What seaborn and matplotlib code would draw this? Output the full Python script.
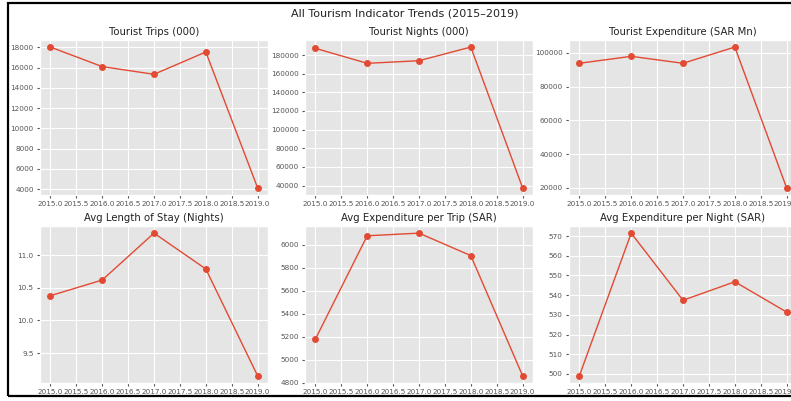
import numpy as np
import pandas as pd
import matplotlib
matplotlib.use("Agg")
import matplotlib.pyplot as plt
from matplotlib.patches import Rectangle
import seaborn as sns

# data
years = [2015, 2016, 2017, 2018, 2019]
trips = [18030, 16100, 15340, 17540, 4120]
nights = [187200, 171100, 173900, 188550, 37500]
expenditure = [93750, 97870, 93750, 103360, 20000]
avg_stay = [10.38, 10.62, 11.34, 10.79, 9.15]
exp_per_trip = [5179, 6076, 6099, 5904, 4861]
exp_per_night = [499.0, 571.5, 537.4, 546.8, 531.4]

titles = ["Tourist Trips (000)", "Tourist Nights (000)", "Tourist Expenditure (SAR Mn)",
          "Avg Length of Stay (Nights)", "Avg Expenditure per Trip (SAR)",
          "Avg Expenditure per Night (SAR)"]
series = [trips, nights, expenditure, avg_stay, exp_per_trip, exp_per_night]

plt.style.use("ggplot")

df = pd.DataFrame({"Year": years})
for t, s in zip(titles, series):
    df[t] = s

fig = plt.figure(figsize=(7.91, 4.01), dpi=100)
W, H = 791, 401

# axes boxes in pixels (left, top, right, bottom)
lefts = [40, 305, 569]
width = 228
rows = [(40, 195), (226, 383)]

for i, t in enumerate(titles):
    r, c = divmod(i, 3)
    top, bot = rows[r]
    ax = fig.add_axes([lefts[c] / W, 1 - bot / H, width / W, (bot - top) / H])
    sns.lineplot(data=df, x="Year", y=t, marker="o", markersize=5,
                 markeredgewidth=0, linewidth=1.0, ax=ax)
    ax.set_title(t, fontsize=7.3, color="#222222", pad=3.5)
    ax.set_xlabel("")
    ax.set_ylabel("")
    ax.tick_params(labelsize=5.2, colors="#555555", length=2.5, pad=2)

fig.suptitle("All Tourism Indicator Trends (2015\u20132019)", x=405 / W, y=1 - 9 / H,
             fontsize=8, color="#222222", va="top")

# screenshot-style black frame (right edge cut off)
fig.add_artist(Rectangle((8 / W, 5 / H), 1.2, (398 - 5) / H, transform=fig.transFigure,
                         fill=False, edgecolor="black", linewidth=1.6, clip_on=False))

fig.savefig("out.png", dpi=100, facecolor="white")
